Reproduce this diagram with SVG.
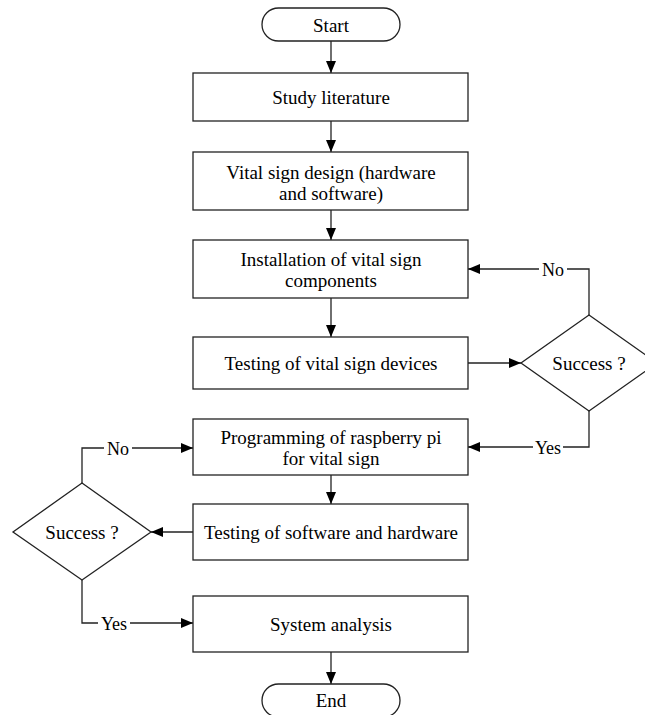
<svg xmlns="http://www.w3.org/2000/svg" width="645" height="715" viewBox="0 0 645 715">
<defs>
<marker id="arr" markerWidth="12" markerHeight="10" refX="12" refY="5" orient="auto" markerUnits="userSpaceOnUse">
<path d="M0,0 L12,5 L0,10 Z" fill="#000"/>
</marker>
<style>
.box{fill:#fff;stroke:#222;stroke-width:1.3}
.t{font-family:"Liberation Serif","Times New Roman",serif;font-size:19px;fill:#000;text-anchor:middle;dominant-baseline:central}
.lbl{font-family:"Liberation Serif","Times New Roman",serif;font-size:18px;fill:#000;text-anchor:middle;dominant-baseline:central}
.c{fill:none;stroke:#222;stroke-width:1.3;marker-end:url(#arr)}
.cl{fill:none;stroke:#222;stroke-width:1.3}
.bg{fill:#fff}
</style>
</defs>
<rect width="645" height="715" fill="#fff"/>
<g id="connectors">
<path class="c" d="M331,41 V73"/>
<path class="c" d="M331,121 V152"/>
<path class="c" d="M331,210 V240"/>
<path class="c" d="M331,298 V337"/>
<path class="c" d="M468,363 H521"/>
<path class="c" d="M589,315 V269 H468"/>
<path class="c" d="M589,411 V447 H468"/>
<path class="c" d="M331,475 V504"/>
<path class="c" d="M193,532 H151"/>
<path class="c" d="M82,483 V448 H193"/>
<path class="c" d="M82,580 V623 H193"/>
<path class="c" d="M331,652 V684"/>
<rect class="bg" x="539" y="259" width="28" height="20"/>
<text class="lbl" x="553" y="270">No</text>
<rect class="bg" x="533" y="437" width="30" height="20"/>
<text class="lbl" x="548" y="448">Yes</text>
<rect class="bg" x="104" y="438" width="28" height="20"/>
<text class="lbl" x="118" y="449">No</text>
<rect class="bg" x="98" y="613" width="32" height="20"/>
<text class="lbl" x="114" y="624">Yes</text>
</g>
<g id="start">
<rect class="box" x="262" y="8" width="138" height="33" rx="16.5"/>
<text class="t" x="331" y="25">Start</text>
</g>
<g id="study">
<rect class="box" x="193" y="73" width="275" height="48"/>
<text class="t" x="331" y="97">Study literature</text>
</g>
<g id="design">
<rect class="box" x="193" y="152" width="275" height="58"/>
<text class="t" x="331" y="172">Vital sign design (hardware</text>
<text class="t" x="331" y="193">and software)</text>
</g>
<g id="install">
<rect class="box" x="193" y="240" width="275" height="58"/>
<text class="t" x="331" y="259">Installation of vital sign</text>
<text class="t" x="331" y="280">components</text>
</g>
<g id="testdev">
<rect class="box" x="193" y="337" width="275" height="52"/>
<text class="t" x="331" y="363">Testing of vital sign devices</text>
</g>
<g id="decision1">
<polygon class="box" points="589,315 657,363 589,411 521,363"/>
<text class="t" x="589" y="363">Success ?</text>
</g>
<g id="programming">
<rect class="box" x="193" y="419" width="275" height="56"/>
<text class="t" x="331" y="437">Programming of raspberry pi</text>
<text class="t" x="331" y="458">for vital sign</text>
</g>
<g id="testsw">
<rect class="box" x="193" y="504" width="275" height="56"/>
<text class="t" x="331" y="532">Testing of software and hardware</text>
</g>
<g id="decision2">
<polygon class="box" points="82,483 151,532 82,580 13,532"/>
<text class="t" x="82" y="532">Success ?</text>
</g>
<g id="analysis">
<rect class="box" x="193" y="596" width="275" height="56"/>
<text class="t" x="331" y="624">System analysis</text>
</g>
<g id="end">
<rect class="box" x="262" y="684" width="138" height="33" rx="16.5"/>
<text class="t" x="331" y="700">End</text>
</g>
</svg>
